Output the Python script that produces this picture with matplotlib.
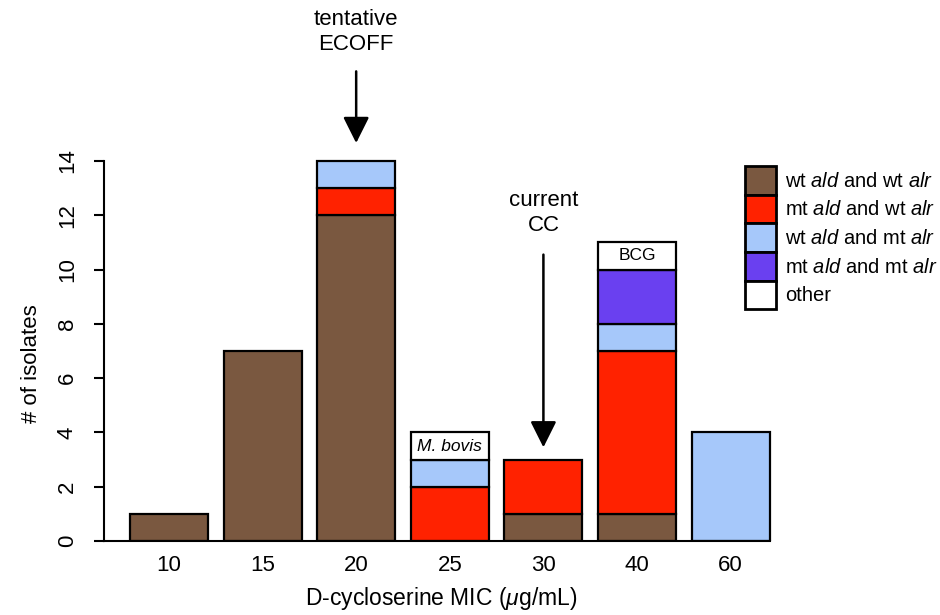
import numpy as np
import matplotlib
matplotlib.use("Agg")
import matplotlib.pyplot as plt
from matplotlib.patches import Patch

plt.rcParams['font.family'] = ['Liberation Sans', 'DejaVu Sans']
plt.rcParams['mathtext.fontset'] = 'custom'
plt.rcParams['mathtext.rm'] = 'Liberation Sans'
plt.rcParams['mathtext.it'] = 'Liberation Sans:italic'

# MIC categories and counts per genotype group
mic_labels = ['10', '15', '20', '25', '30', '40', '60']
wt_ald_wt_alr = [1, 7, 12, 0, 1, 1, 0]
mt_ald_wt_alr = [0, 0, 1, 2, 2, 6, 0]
wt_ald_mt_alr = [0, 0, 1, 1, 0, 1, 4]
mt_ald_mt_alr = [0, 0, 0, 0, 0, 2, 0]
other = [0, 0, 0, 1, 0, 1, 0]
other_names = ['', '', '', 'M. bovis', '', 'BCG', '']

series_names = [r'wt $\it{ald}$ and wt $\it{alr}$',
                r'mt $\it{ald}$ and wt $\it{alr}$',
                r'wt $\it{ald}$ and mt $\it{alr}$',
                r'mt $\it{ald}$ and mt $\it{alr}$',
                'other']
colors = ['#7a5840', '#ff2200', '#a6c8fa', '#6a40f0', '#ffffff']

# cutoffs marked with arrows (index into mic_labels)
ecoff_idx = 2
cc_idx = 4

# R-style barplot positions (width 1, space 0.2)
x = 0.7 + 1.2 * np.arange(len(mic_labels))

fig = plt.figure(figsize=(9.4, 6.15), dpi=100)
ax = fig.add_axes([0.111, 0.1203, 0.735, 0.6427])

bottom = np.zeros(len(x))
for vals, col in zip([wt_ald_wt_alr, mt_ald_wt_alr, wt_ald_mt_alr, mt_ald_mt_alr, other], colors):
    vals = np.array(vals, dtype=float)
    m = vals > 0
    ax.bar(x[m], vals[m], width=1.0, bottom=bottom[m], color=col,
           edgecolor='black', linewidth=1.6, zorder=2)
    bottom += vals

# names of the "other" isolates
top_other = bottom - np.array(other) / 2
for i, name in enumerate(other_names):
    if name:
        style = 'italic' if name == 'M. bovis' else 'normal'
        ax.text(x[i], top_other[i], name, ha='center', va='center',
                fontsize=12.5, style=style, zorder=3)

ax.set_xlim(-0.128, 8.728)
ax.set_ylim(0, 14.56)
ax.set_xticks(x)
ax.set_xticklabels(mic_labels, fontsize=16)
ax.tick_params(axis='x', length=0, pad=10)
ax.set_yticks(np.arange(0, 15, 2))
ax.set_yticklabels([str(v) for v in range(0, 15, 2)], fontsize=16,
                   rotation=90, va='center')
ax.tick_params(axis='y', length=7, width=1.5, pad=12)

for s in ['top', 'right']:
    ax.spines[s].set_visible(False)
ax.spines['left'].set_bounds(0, 14)
ax.spines['left'].set_linewidth(1.5)
ax.spines['bottom'].set_bounds(-0.128, 8.4)
ax.spines['bottom'].set_linewidth(1.5)

ax.set_xlabel(r'D-cycloserine MIC ($\mu$g/mL)', fontsize=16.5)
ax.xaxis.set_label_coords(0.487, -0.112)
ax.set_ylabel('# of isolates', fontsize=16)
ax.yaxis.set_label_coords(-0.09, 0.45)

# arrows
arrow = dict(arrowstyle='-|>,head_length=1.6,head_width=0.8', lw=1.8,
             color='black', shrinkA=0, shrinkB=0)
ax.annotate('', xy=(x[ecoff_idx], 14.66), xytext=(x[ecoff_idx], 17.3),
            arrowprops=arrow, annotation_clip=False)
ax.text(x[ecoff_idx], 18.75, 'tentative\nECOFF', ha='center', va='center',
        fontsize=16, linespacing=1.2, clip_on=False)
ax.annotate('', xy=(x[cc_idx], 3.45), xytext=(x[cc_idx], 10.55),
            arrowprops=arrow, annotation_clip=False)
ax.text(x[cc_idx], 12.08, 'current\nCC', ha='center', va='center',
        fontsize=16, linespacing=1.2, clip_on=False)

handles = [Patch(facecolor=c, edgecolor='black', linewidth=2.0) for c in colors]
fig.legend(handles, series_names, loc='upper left',
           bbox_to_anchor=(745 / 940, 1 - 166 / 615), frameon=False,
           fontsize=14.5, handlelength=1.55, handleheight=1.81,
           labelspacing=0.0, handletextpad=0.45, borderpad=0, borderaxespad=0)

fig.savefig('out.png', dpi=100)
